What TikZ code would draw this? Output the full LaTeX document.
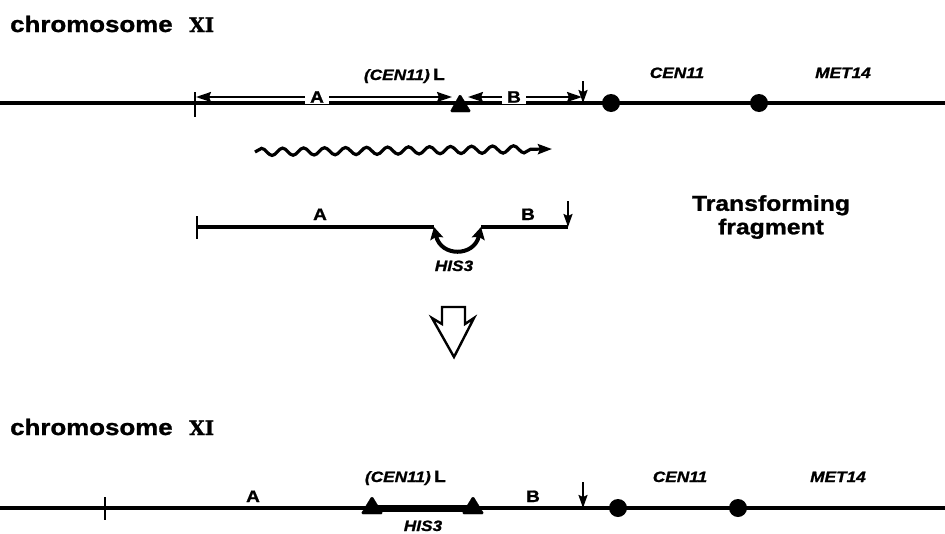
\documentclass[tikz,border=0pt]{standalone}
\usepackage{fontspec}
\setmainfont{Liberation Sans}[FakeStretch=1.15,BoldFeatures={FakeBold=1.2},BoldItalicFeatures={FakeBold=1.2}]
\newfontfamily\romanfont{DejaVu Serif}[BoldFeatures={FakeBold=1}]
\usetikzlibrary{arrows.meta,decorations.pathmorphing}
\tikzset{
  chrline/.style={line width=3.4pt},
  tickline/.style={line width=2.6pt},
  dimarr/.style={line width=2pt,{Stealth[length=15pt,width=10pt,inset=2pt]}-{Stealth[length=15pt,width=10pt,inset=2pt]}},
  downarr/.style={line width=2pt,-{Stealth[length=13pt,width=9pt,inset=2pt]}},
  title/.style={font=\fontsize{22.5}{24}\selectfont\bfseries,inner sep=0pt,anchor=base west},
  numeral/.style={font=\fontsize{20}{24}\romanfont\bfseries,inner sep=0pt,anchor=base west},
  lbl/.style={font=\fontsize{16.5}{18}\selectfont\bfseries,inner sep=0pt,anchor=base},
  gene/.style={font=\fontsize{15}{17}\selectfont\bfseries\itshape,inner sep=0pt,anchor=base},
  gap/.style={fill=white,inner xsep=5pt,inner ysep=1pt,anchor=center},
  dot/.style={circle,fill,inner sep=0pt,minimum size=18pt},
  tri/.style={fill,rounded corners=1.5pt},
}
\begin{document}
\begin{tikzpicture}[x=1pt,y=-1pt]
\useasboundingbox (0,0) rectangle (945,533);

% ---------- top chromosome ----------
\node[title] (t1) at (10,32) {chromosome};
\node[numeral] (n1) at (189,32) {XI};

\coordinate (c1L) at (0,103);
\coordinate (c1R) at (945,103);
\draw[chrline] (c1L) -- (c1R);
\coordinate (k1a) at (195,92);
\coordinate (k1b) at (195,117);
\draw[tickline] (k1a) -- (k1b);

\draw[tri] (460,94) -- (471,112) -- (450,112) -- cycle;
\coordinate (triT) at (452,97);
\coordinate (triT2) at (468,97);
\coordinate (aL) at (196,97);
\coordinate (bR) at (582,97);
\draw[dimarr] (aL) -- (triT);
\draw[dimarr] (triT2) -- (bR);
\node[lbl,gap] (A1) at (317,97) {A};
\node[lbl,gap] (B1) at (514,97) {B};

\coordinate (d1a) at (583,81);
\coordinate (d1b) at (583,103);
\draw[downarr] (d1a) -- (d1b);

\node[dot] (cen1) at (611,103) {};
\node[dot] (met1) at (759,103) {};

\node[gene,anchor=base east] (cenL1) at (430,80) {(CEN11)};
\node[lbl,anchor=base west] (L1) at (433,80) {L};
\node[gene] (cenlab1) at (677,78) {CEN11};
\node[gene] (metlab1) at (843,78) {MET14};

% ---------- wavy transcript ----------
\coordinate (w1) at (255,152);
\coordinate (w2) at (552,149);
\draw[line width=3.2pt,decorate,decoration={snake,segment length=21pt,amplitude=3.6pt,post length=13pt},-{Stealth[length=14pt,width=10pt,inset=2pt]}] (w1) -- (w2);

% ---------- transforming fragment ----------
\coordinate (f1) at (197,227);
\coordinate (f2) at (434,227);
\coordinate (f3) at (481,227);
\coordinate (f4) at (568,227);
\draw[chrline] (f1) -- (f2);
\draw[chrline] (f3) -- (f4);
\coordinate (k2a) at (197,216);
\coordinate (k2b) at (197,239);
\draw[tickline] (k2a) -- (k2b);
\draw[line width=4pt,{Stealth[length=12pt,width=13pt,inset=2pt]}-{Stealth[length=12pt,width=13pt,inset=2pt]}]
  (f2) .. controls (441,257) and (474,257) .. (f3);
\node[lbl] (A2) at (320,220) {A};
\node[lbl] (B2) at (528,220) {B};
\coordinate (d2a) at (568,201);
\coordinate (d2b) at (568,227);
\draw[downarr] (d2a) -- (d2b);
\node[gene] (his2) at (454,271) {HIS3};
\node[font=\fontsize{21.5}{23.5}\selectfont\bfseries,align=center,inner sep=0pt,anchor=north] (tf) at (771,195) {Transforming\\fragment};

% ---------- hollow arrow ----------
\draw[line width=2.4pt,line join=miter] (442,307) -- (465,307) -- (465,324) -- (474,318) -- (454,357) -- (432,318) -- (442,324) -- cycle;

% ---------- bottom chromosome ----------
\node[title] (t2) at (10,435) {chromosome};
\node[numeral] (n2) at (189,435) {XI};

\coordinate (c2L) at (0,508);
\coordinate (c2R) at (945,508);
\draw[chrline] (c2L) -- (c2R);
\coordinate (k3a) at (105,497);
\coordinate (k3b) at (105,520);
\draw[tickline] (k3a) -- (k3b);

\coordinate (h1) at (372,508);
\coordinate (h2) at (473,508);
\draw[line width=7pt] (h1) -- (h2);
\draw[tri] (372,496) -- (383,514) -- (361,514) -- cycle;
\draw[tri] (473,496) -- (484,514) -- (462,514) -- cycle;

\node[lbl] (A3) at (253,502) {A};
\node[lbl] (B3) at (533,502) {B};
\coordinate (d3a) at (583,482);
\coordinate (d3b) at (583,508);
\draw[downarr] (d3a) -- (d3b);
\node[dot] (cen3) at (618,508) {};
\node[dot] (met3) at (738,508) {};

\node[gene,anchor=base east] (cenL3) at (431,482) {(CEN11)};
\node[lbl,anchor=base west] (L3) at (434,482) {L};
\node[gene] (his3) at (423,531) {HIS3};
\node[gene] (cenlab3) at (680,482) {CEN11};
\node[gene] (metlab3) at (838,482) {MET14};
\end{tikzpicture}
\end{document}
